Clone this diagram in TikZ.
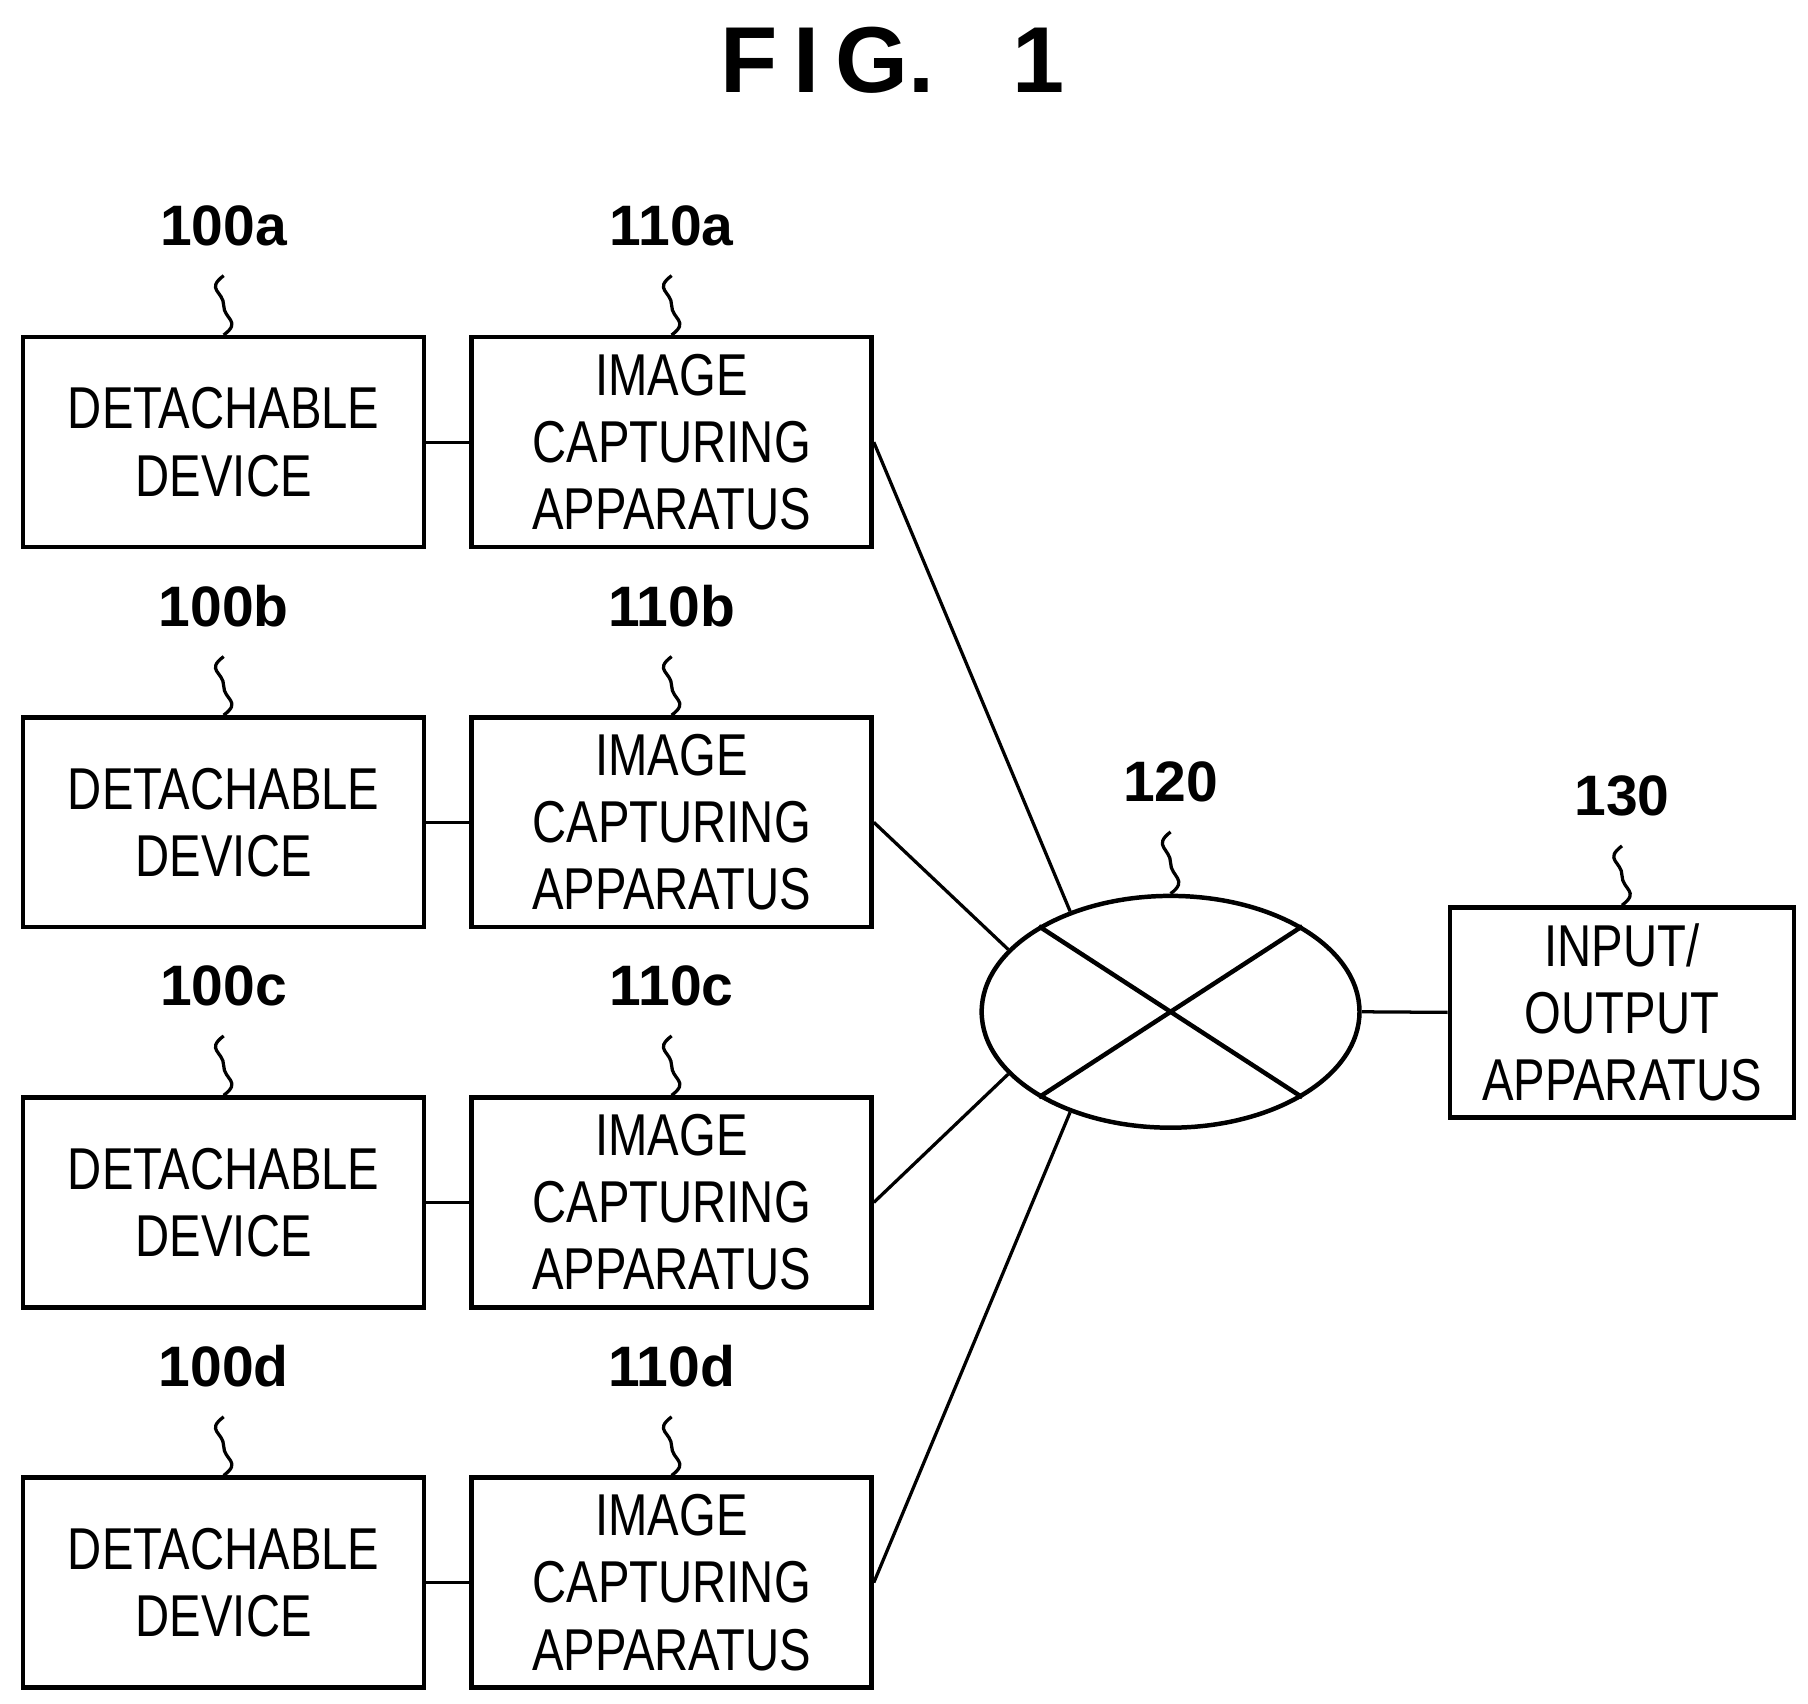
\documentclass[tikz,border=0pt]{standalone}
\usepackage{fontspec}
\setmainfont{Liberation Sans}
\newfontfamily\narrowfont[FakeStretch=0.8]{Liberation Sans}
\usetikzlibrary{calc}
\usetikzlibrary{shapes.geometric}
\tikzset{
  unit/.style={draw,line width=1.1pt,minimum height=1.81cm,align=center,
    font=\narrowfont\fontsize{14.5}{16.5}\selectfont},
  ref/.style={font=\bfseries\fontsize{14}{16}\selectfont},
  link/.style={line width=0.8pt},
  squig/.style={to path={.. controls ($(\tikztostart)+(-0.16,-0.12)$) and ($(\tikztostart)!0.5!(\tikztotarget)+(0,0.12)$) .. ($(\tikztostart)!0.5!(\tikztotarget)$) .. controls ($(\tikztostart)!0.5!(\tikztotarget)+(0,-0.12)$) and ($(\tikztotarget)+(0.16,0.12)$) .. (\tikztotarget)}}
}
\begin{document}
\begin{tikzpicture}[>=latex]
        \useasboundingbox (0,0) rectangle (15.6,-14.7);

        % title
        \node[font=\bfseries\fontsize{23}{26}\selectfont] (title) at (7.7,-0.52) {F\,I\,G.\ \ \ 1};

        % detachable devices and cameras
        \foreach \k/\y in {a/-3.815,b/-7.095,c/-10.375,d/-13.655} {
                \node[unit,minimum width=3.46cm] (det-\k) at (1.93,\y) {DETACHABLE\\DEVICE};
                \node[unit,minimum width=3.45cm] (cam-\k) at (5.795,\y) {IMAGE\\CAPTURING\\APPARATUS};
                \node[ref] (ldet-\k) at (1.93,\y+1.865) {100\k};
                \node[ref] (lcam-\k) at (5.795,\y+1.865) {110\k};
                \draw[link] ([yshift=-1.3mm]ldet-\k.south) to[squig] (det-\k.north);
                \draw[link] ([yshift=-1.3mm]lcam-\k.south) to[squig] (cam-\k.north);
                \draw[link] (det-\k) -- (cam-\k);
        }

        % network
        \node[ellipse,draw,line width=1.1pt,minimum width=3.26cm,minimum height=2.0cm] (net) at (10.10,-8.73) {};
        \draw[line width=1.1pt] (net.147) -- (net.-33);
        \draw[line width=1.1pt] (net.33) -- (net.-147);
        \node[ref] (lnet) at (10.10,-6.75) {120};
        \draw[link] ([yshift=-1.3mm]lnet.south) to[squig] (net.north);

        % input/output apparatus
        \node[unit,minimum width=2.97cm] (io) at (13.995,-8.735) {INPUT/\\OUTPUT\\APPARATUS};
        \node[ref] (lio) at (13.995,-6.87) {130};
        \draw[link] ([yshift=-1.3mm]lio.south) to[squig] (io.north);

        % connections
        \draw[link] (cam-a.east) -- (net.135);
        \draw[link] (cam-b.east) -- (net.159);
        \draw[link] (cam-c.east) -- (net.201);
        \draw[link] (cam-d.east) -- (net.225);
        \draw[link] (net.east) -- (io.west);
\end{tikzpicture}
\end{document}
